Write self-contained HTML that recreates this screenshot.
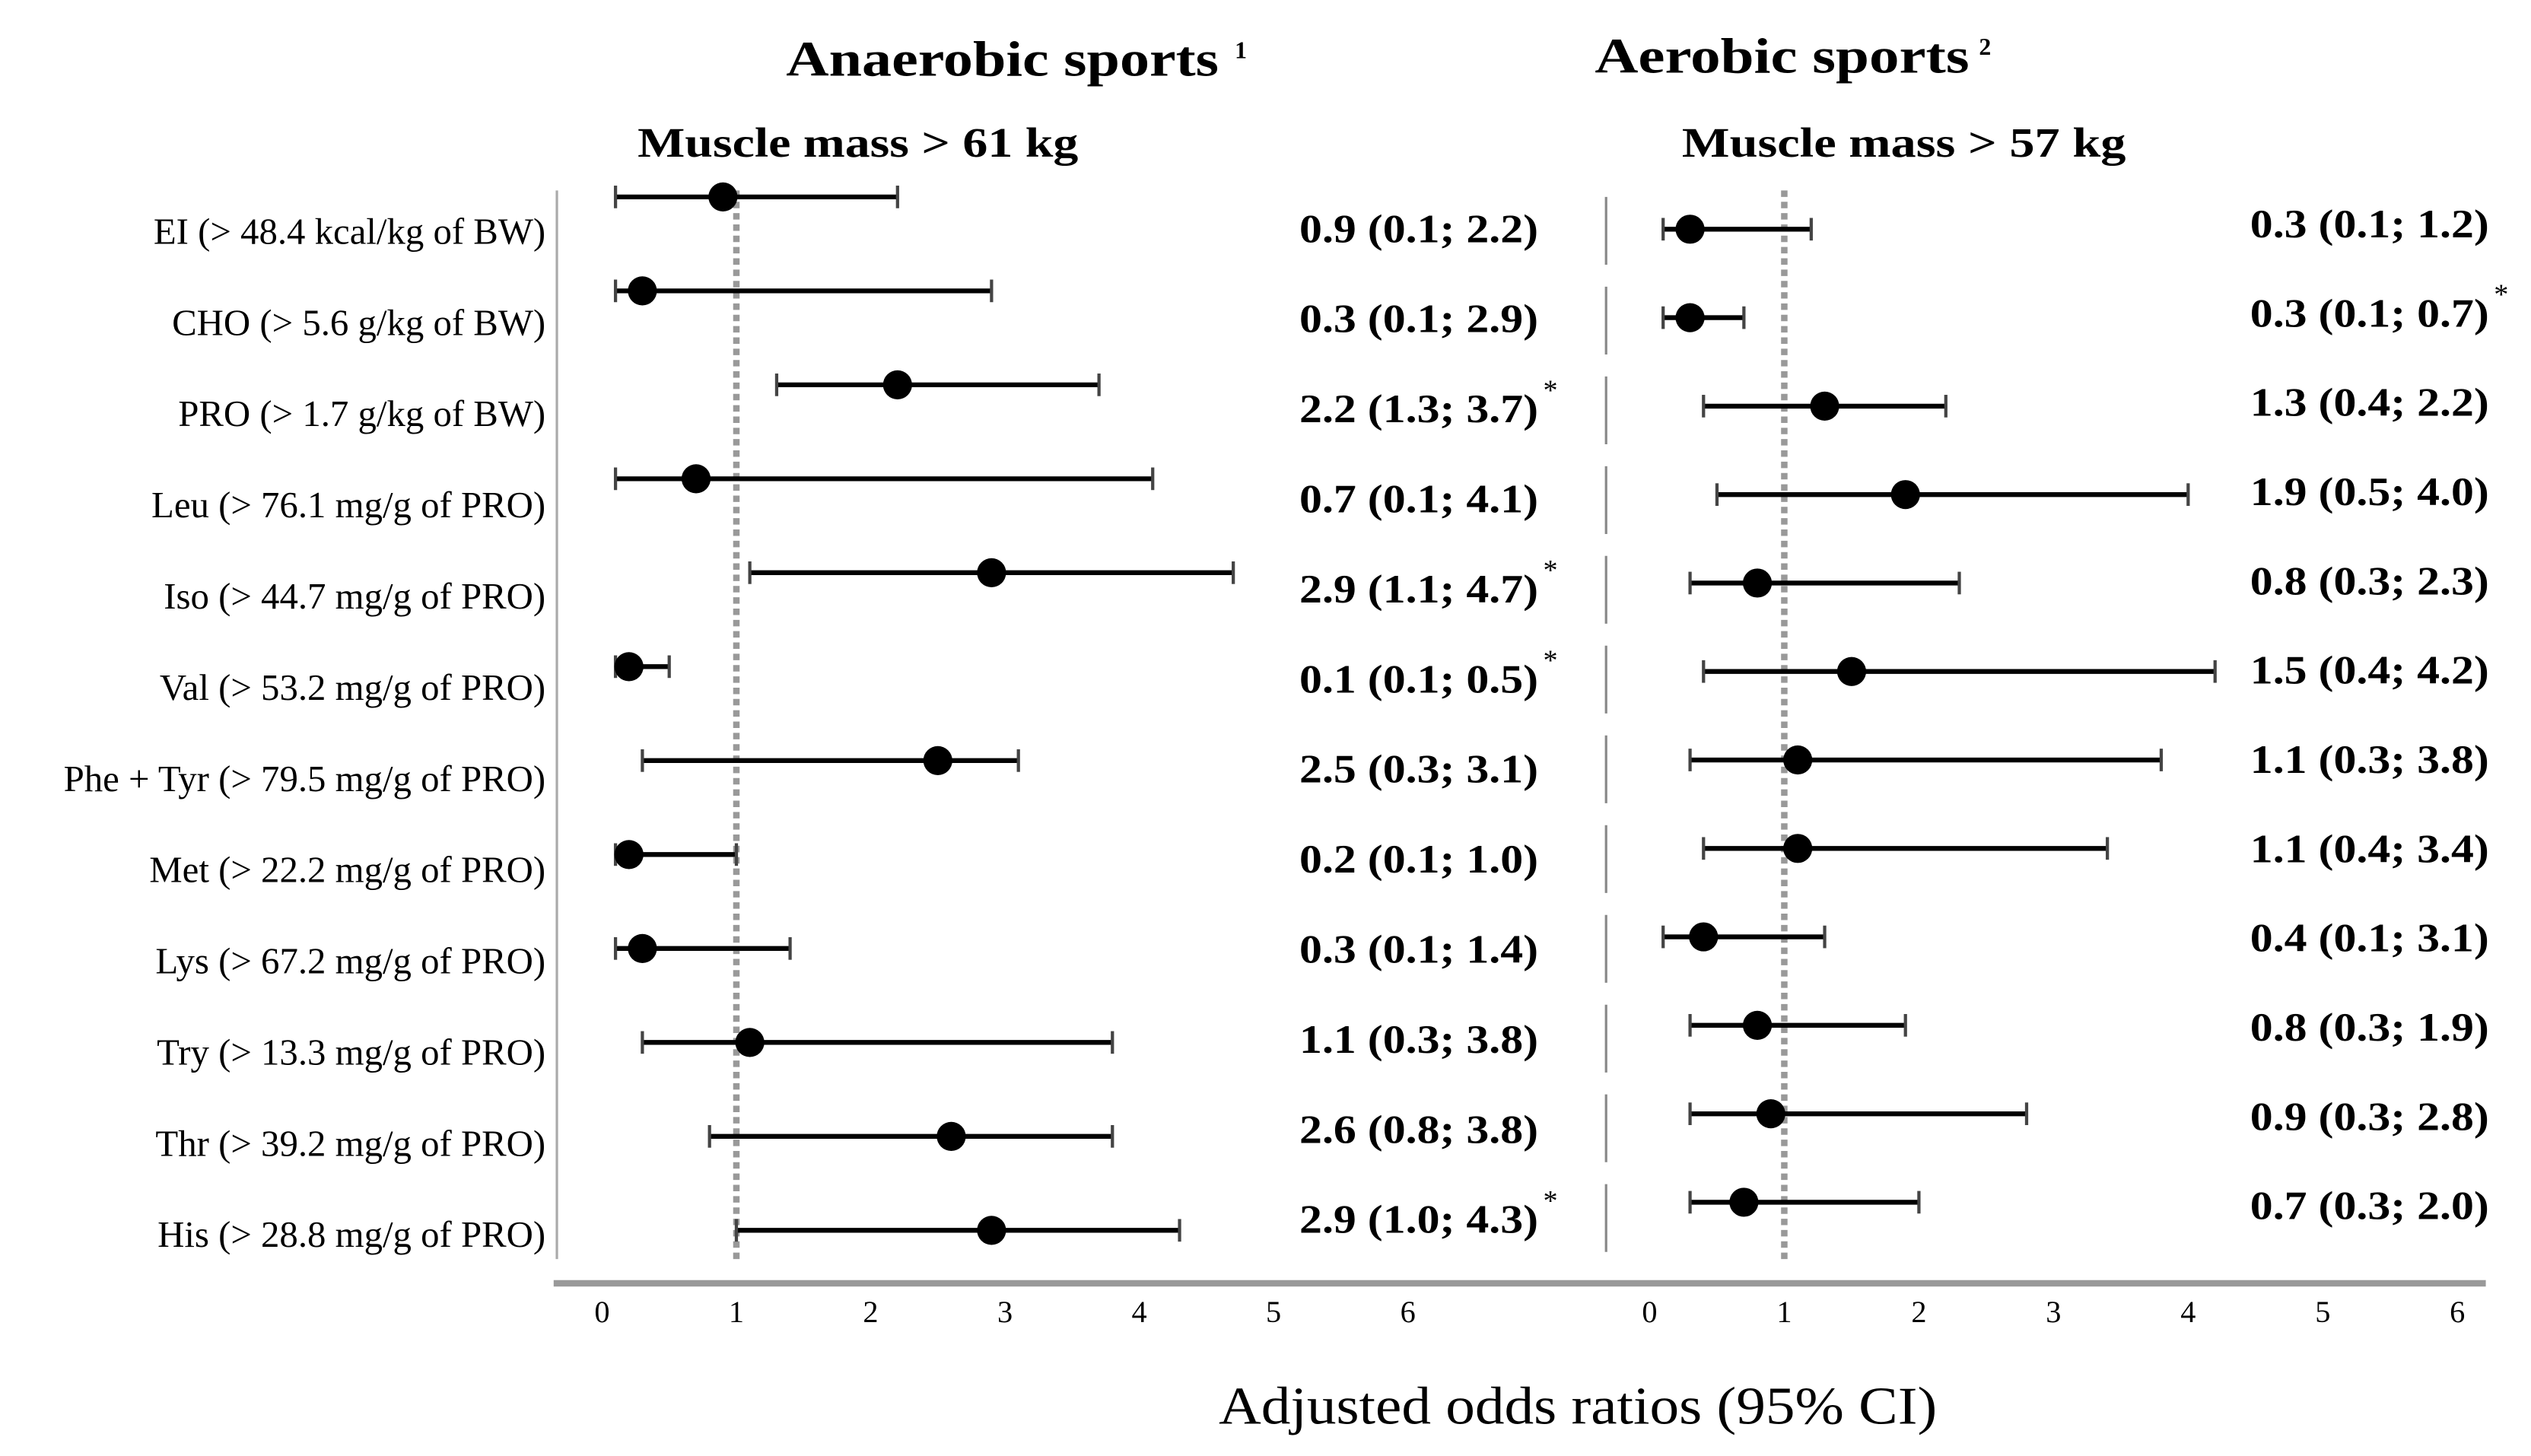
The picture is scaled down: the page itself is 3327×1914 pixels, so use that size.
<!DOCTYPE html>
<html><head><meta charset="utf-8"><style>
html,body{margin:0;padding:0;background:#fff}
svg{display:block}
text{font-family:"Liberation Serif",serif;fill:#000}
</style></head><body>
<svg id="chart" width="3327" height="1914" viewBox="0 0 1568 902" preserveAspectRatio="none" xmlns="http://www.w3.org/2000/svg">
<text x="487" y="47" font-size="31" font-weight="bold" textLength="268" lengthAdjust="spacingAndGlyphs">Anaerobic sports</text>
<text x="765" y="36" font-size="15" font-weight="bold">1</text>
<text x="988" y="45" font-size="31" font-weight="bold" textLength="232" lengthAdjust="spacingAndGlyphs">Aerobic sports</text>
<text x="1226" y="34" font-size="15" font-weight="bold">2</text>
<text x="395" y="97" font-size="26" font-weight="bold" textLength="273" lengthAdjust="spacingAndGlyphs">Muscle mass  &gt; 61 kg</text>
<text x="1042" y="97" font-size="26" font-weight="bold" textLength="275" lengthAdjust="spacingAndGlyphs">Muscle mass  &gt; 57 kg</text>
<text x="755" y="882" font-size="33" textLength="445" lengthAdjust="spacingAndGlyphs">Adjusted odds ratios (95% CI)</text>
<line x1="343" y1="795" x2="1540" y2="795" stroke="#999" stroke-width="4"/>
<line x1="345" y1="118" x2="345" y2="780" stroke="#aaa" stroke-width="1.5"/>
<g id="g"></g>
</svg>
<script>
const labels=["EI (> 48.4 kcal/kg of BW)","CHO (> 5.6 g/kg of BW)","PRO (> 1.7 g/kg of BW)","Leu (> 76.1 mg/g of PRO)","Iso (> 44.7 mg/g of PRO)","Val (> 53.2 mg/g of PRO)","Phe + Tyr (> 79.5 mg/g of PRO)","Met (> 22.2 mg/g of PRO)","Lys (> 67.2 mg/g of PRO)","Try (> 13.3 mg/g of PRO)","Thr (> 39.2 mg/g of PRO)","His (> 28.8 mg/g of PRO)"];
const leftEst=[0.9,0.3,2.2,0.7,2.9,0.2,2.5,0.2,0.3,1.1,2.6,2.9];
const leftLow=[0.1,0.1,1.3,0.1,1.1,0.1,0.3,0.1,0.1,0.3,0.8,1.0];
const leftHigh=[2.2,2.9,3.7,4.1,4.7,0.5,3.1,1.0,1.4,3.8,3.8,4.3];
const leftText=["0.9 (0.1; 2.2)","0.3 (0.1; 2.9)","2.2 (1.3; 3.7)","0.7 (0.1; 4.1)","2.9 (1.1; 4.7)","0.1 (0.1; 0.5)","2.5 (0.3; 3.1)","0.2 (0.1; 1.0)","0.3 (0.1; 1.4)","1.1 (0.3; 3.8)","2.6 (0.8; 3.8)","2.9 (1.0; 4.3)"];
const leftStar=[0,0,1,0,1,1,0,0,0,0,0,1];
const rightEst=[0.3,0.3,1.3,1.9,0.8,1.5,1.1,1.1,0.4,0.8,0.9,0.7];
const rightLow=[0.1,0.1,0.4,0.5,0.3,0.4,0.3,0.4,0.1,0.3,0.3,0.3];
const rightHigh=[1.2,0.7,2.2,4.0,2.3,4.2,3.8,3.4,1.3,1.9,2.8,2.0];
const rightText=["0.3 (0.1; 1.2)","0.3 (0.1; 0.7)","1.3 (0.4; 2.2)","1.9 (0.5; 4.0)","0.8 (0.3; 2.3)","1.5 (0.4; 4.2)","1.1 (0.3; 3.8)","1.1 (0.4; 3.4)","0.4 (0.1; 3.1)","0.8 (0.3; 1.9)","0.9 (0.3; 2.8)","0.7 (0.3; 2.0)"];
const rightStar=[0,1,0,0,0,0,0,0,0,0,0,0];
const ticks=[0,1,2,3,4,5,6];
const NS="http://www.w3.org/2000/svg", g=document.getElementById('g');
function mk(t,a,txt){const e=document.createElementNS(NS,t);for(const k in a)e.setAttribute(k,a[k]);if(txt!=null)e.textContent=txt;g.appendChild(e);return e;}
const xL=v=>373+v*83.2, xR=v=>1022+v*83.4;
const yLrow=i=>122+i*58.2, yRrow=i=>142+i*54.8;
labels.forEach((l,i)=>{const e=mk('text',{x:338,y:151+i*56.5,'font-size':23,'text-anchor':'end'},l);

});
[xL,xR].forEach(f=>{const e=mk('line',{x1:f(1),y1:118,x2:f(1),y2:782,stroke:'#999','stroke-width':4,'stroke-dasharray':'4 3'});

});
for(let i=0;i<12;i++){const e=mk('line',{x1:995,y1:122+i*55.6,x2:995,y2:164+i*55.6,stroke:'#888','stroke-width':1.5});

}
ticks.forEach(t=>{[xL,xR].forEach(f=>{const e=mk('text',{x:f(t),y:819,'font-size':19,'text-anchor':'middle'},String(t));

});});
function series(est,lo,hi,txt,star,fx,fy,tx,ty0,tdy,side){
 est.forEach((v,i)=>{const y=fy(i);
  const l=mk('line',{x1:fx(lo[i]),y1:y,x2:fx(hi[i]),y2:y,stroke:'#000','stroke-width':3});
  
  
  [lo[i],hi[i]].forEach(c=>{const k=mk('line',{x1:fx(c),y1:y-7,x2:fx(c),y2:y+7,stroke:'#444','stroke-width':2});
   
   });
  const p=mk('circle',{cx:fx(v),cy:y,r:9,fill:'#000'});
  
  
  const t=mk('text',{x:tx-74,y:ty0+i*tdy,'font-size':25,'font-weight':'bold',textLength:148,lengthAdjust:'spacingAndGlyphs'},txt[i]);
  
  
  if(star[i]){const s=mk('text',{x:tx+77,y:ty0+i*tdy-14,'font-size':18},'*');
   
   }
 });
}
series(leftEst,leftLow,leftHigh,leftText,leftStar,xL,yLrow,879,150,55.8,'left');
series(rightEst,rightLow,rightHigh,rightText,rightStar,xR,yRrow,1468,147,55.3,'right');
</script>
</body></html>
